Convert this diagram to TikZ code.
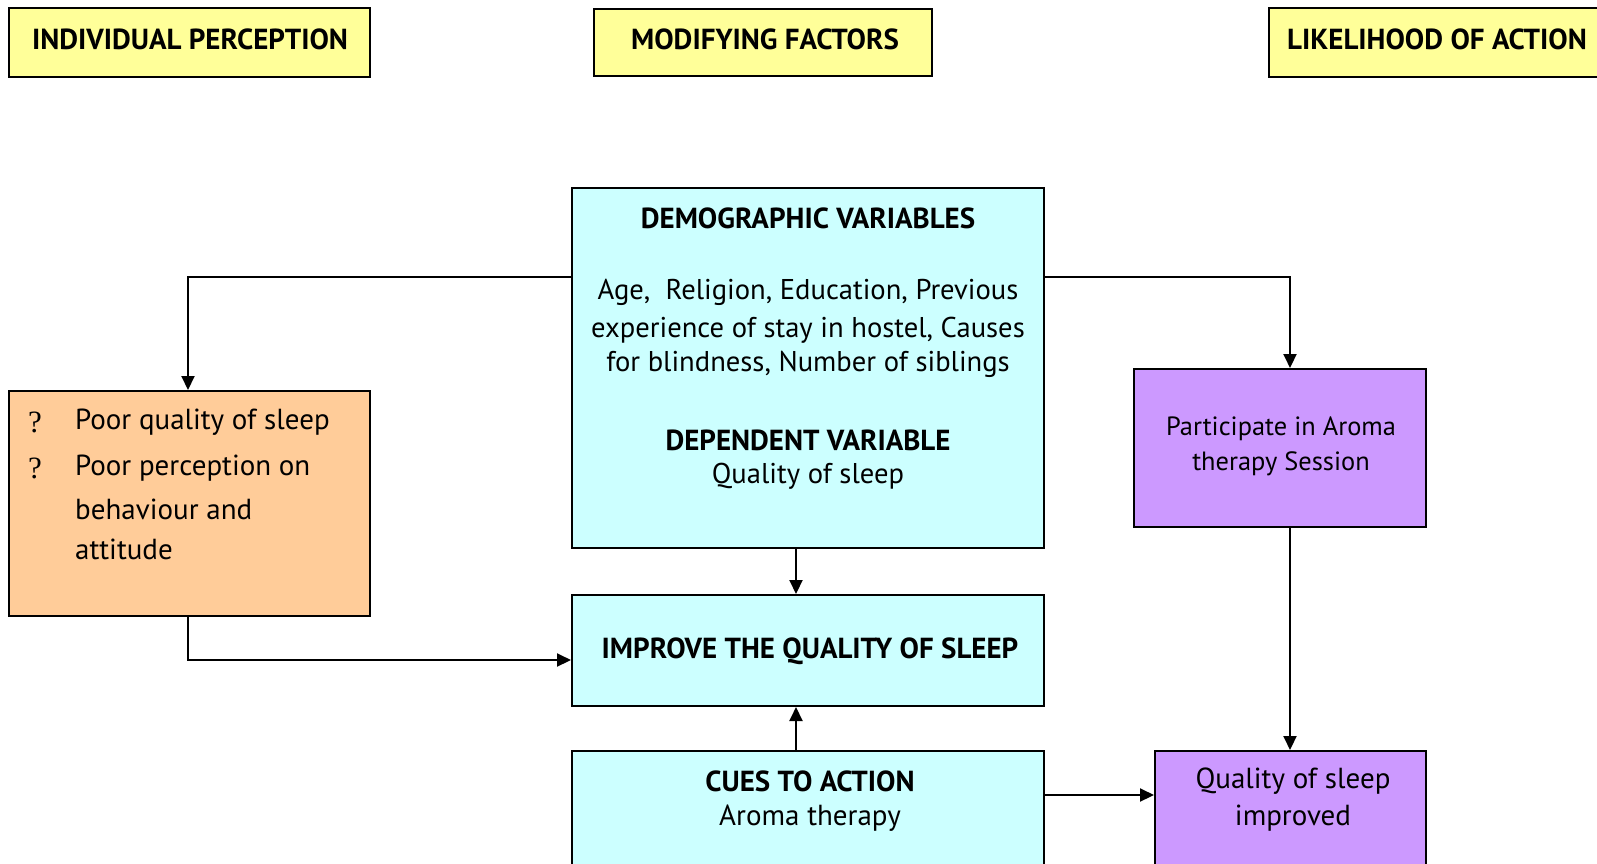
\documentclass[tikz,border=0pt]{standalone}
\usepackage{fontspec}
\setmainfont{PT Sans}
\newfontfamily\qfont{Liberation Serif}
\usetikzlibrary{arrows.meta,calc}
\definecolor{hdryellow}{HTML}{FFFF99}
\definecolor{boxcyan}{HTML}{CCFFFF}
\definecolor{boxorange}{HTML}{FFCC99}
\definecolor{boxpurple}{HTML}{CC99FF}
\tikzset{
  boxbase/.style={draw=black, line width=2pt, rectangle, inner sep=0pt, anchor=north west},
  hdr/.style={boxbase, fill=hdryellow},
  cyanbox/.style={boxbase, fill=boxcyan},
  orangebox/.style={boxbase, fill=boxorange},
  purplebox/.style={boxbase, fill=boxpurple},
  hdrtext/.style={font=\fontsize{29}{34}\selectfont\bfseries, inner sep=0pt},
  boldtext/.style={font=\fontsize{29}{34}\selectfont\bfseries, inner sep=0pt},
  demotext/.style={font=\fontsize{28.6}{33}\selectfont, inner sep=0pt},
  bodytext/.style={font=\fontsize{29}{34}\selectfont, inner sep=0pt},
  smalltext/.style={font=\fontsize{26.4}{31}\selectfont, inner sep=0pt},
  arr/.style={line width=2pt, -{Triangle[length=14pt,width=13pt]}},
}
\begin{document}
\begin{tikzpicture}[x=1pt,y=-1pt]
\clip (0,0) rectangle (1597,863);
\fill[white] (0,0) rectangle (1597,863);
% headers
\node[hdr, minimum width=361pt, minimum height=69pt] (hip) at (8,7) {};
\node[hdr, minimum width=338pt, minimum height=67pt] (hmf) at (593,8) {};
\node[hdr, minimum width=360pt, minimum height=69pt] (hla) at (1268,7) {};
\node[hdrtext] (tip) at (190,39) {INDIVIDUAL PERCEPTION};
\node[hdrtext] (tmf) at (765,39) {MODIFYING FACTORS};
\node[hdrtext] (tla) at (1437,39) {LIKELIHOOD OF ACTION};
% boxes
\node[cyanbox, minimum width=472pt, minimum height=360pt] (demo) at (571,187) {};
\node[orangebox, minimum width=361pt, minimum height=225pt] (orange) at (8,390) {};
\node[cyanbox, minimum width=472pt, minimum height=111pt] (improve) at (571,594) {};
\node[cyanbox, minimum width=472pt, minimum height=150pt] (cues) at (571,750) {};
\node[purplebox, minimum width=292pt, minimum height=158pt] (part) at (1133,368) {};
\node[purplebox, minimum width=271pt, minimum height=150pt] (qual) at (1154,750) {};
% demographic texts
\node[boldtext] (dv) at (808,218) {DEMOGRAPHIC VARIABLES};
\node[demotext] (d1) at (808,292) {Age,\ \ Religion, Education, Previous};
\node[demotext] (d2) at (808,330) {experience of stay in hostel, Causes};
\node[demotext] (d3) at (808,364) {for blindness, Number of siblings};
\node[boldtext] (dep) at (808,440) {DEPENDENT VARIABLE};
\node[demotext] (d4) at (808,476) {Quality of sleep};
% orange texts
\node[bodytext, anchor=west] (q1) at (28,422) {\qfont\fontsize{31}{36}\selectfont ?};
\node[bodytext, anchor=west] (q2) at (28,468) {\qfont\fontsize{31}{36}\selectfont ?};
\node[bodytext, anchor=west] (o1) at (75,422) {Poor quality of sleep};
\node[bodytext, anchor=west] (o2) at (75,468) {Poor perception on};
\node[bodytext, anchor=west] (o3) at (75,509) {behaviour and};
\node[bodytext, anchor=west] (o4) at (75,549) {attitude};
% improve
\node[boldtext] (it) at (810,651) {IMPROVE THE QUALITY OF SLEEP};
% cues
\node[boldtext] (ct) at (810,781) {CUES TO ACTION};
\node[bodytext] (ca) at (810,818) {Aroma therapy};
% participate
\node[smalltext] (p1) at (1281,429) {Participate in Aroma};
\node[smalltext] (p2) at (1281,464) {therapy Session};
% quality improved
\node[bodytext] (qi1) at (1293,781) {Quality of sleep};
\node[bodytext] (qi2) at (1293,818) {improved};
% connector helper coordinates
\coordinate (dl) at ($(demo.north west)+(0,90)$);
\coordinate (dr) at ($(demo.north east)+(0,90)$);
\coordinate (colL) at (188,0);
\coordinate (colR) at (1290,0);
\coordinate (colM) at (796,0);
\coordinate (rowO) at (0,660);
\coordinate (rowC) at (0,795);
% connectors
\draw[arr] (dl) -| (colL |- orange.north);
\draw[arr] (dr) -| (colR |- part.north);
\draw[arr] (colM |- demo.south) -- (colM |- improve.north);
\draw[arr] (colL |- orange.south) |- (rowO -| improve.west);
\draw[arr] (colM |- cues.north) -- (colM |- improve.south);
\draw[arr] (colR |- part.south) -- (colR |- qual.north);
\draw[arr] (rowC -| cues.east) -- (rowC -| qual.west);
\end{tikzpicture}
\end{document}
